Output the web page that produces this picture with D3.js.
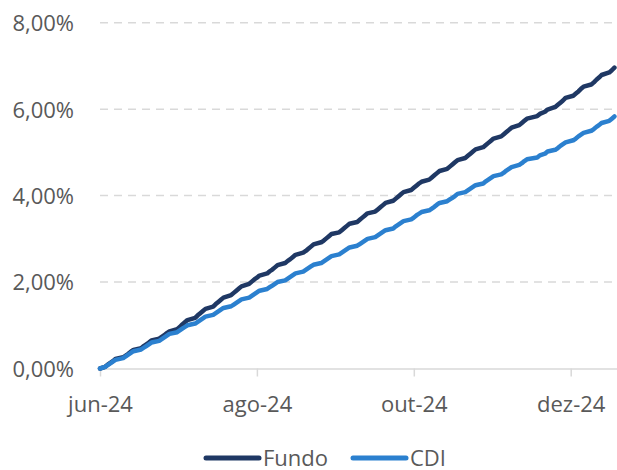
<!DOCTYPE html>
<html>
<head>
<meta charset="utf-8">
<script src="https://cdn.jsdelivr.net/npm/d3@7"></script>
<style>
  html, body { margin: 0; padding: 0; background: #fff; }
  svg { display: block; font-family: "Open Sans", "Noto Sans", sans-serif; }
</style>
</head>
<body>
<svg id="chart" width="617" height="470"></svg>
<script>
// ---- Data (cumulative return, %) ----
const dates = ["06-01",
 "06-03","06-04","06-05","06-06","06-07","06-10","06-11","06-12","06-13","06-14","06-17","06-18","06-19","06-20","06-21","06-24","06-25","06-26","06-27","06-28",
 "07-01","07-02","07-03","07-04","07-05","07-08","07-09","07-10","07-11","07-12","07-15","07-16","07-17","07-18","07-19","07-22","07-23","07-24","07-25","07-26","07-29","07-30","07-31",
 "08-01","08-02","08-05","08-06","08-07","08-08","08-09","08-12","08-13","08-14","08-15","08-16","08-19","08-20","08-21","08-22","08-23","08-26","08-27","08-28","08-29","08-30",
 "09-02","09-03","09-04","09-05","09-06","09-09","09-10","09-11","09-12","09-13","09-16","09-17","09-18","09-19","09-20","09-23","09-24","09-25","09-26","09-27","09-30",
 "10-01","10-02","10-03","10-04","10-07","10-08","10-09","10-10","10-11","10-14","10-15","10-16","10-17","10-18","10-21","10-22","10-23","10-24","10-25","10-28","10-29","10-30","10-31",
 "11-01","11-04","11-05","11-06","11-07","11-08","11-11","11-12","11-13","11-14","11-18","11-19","11-21","11-22","11-25","11-26","11-27","11-28","11-29",
 "12-02","12-03","12-04","12-05","12-06","12-09","12-10","12-11","12-12","12-13","12-16","12-17","12-18"];

const fundo = [0,
 0.04,0.09,0.13,0.17,0.22,0.26,0.30,0.34,0.39,0.43,0.47,0.52,0.56,0.60,0.65,0.69,0.73,0.77,0.82,0.86,
 0.91,0.96,1.02,1.07,1.12,1.17,1.23,1.28,1.33,1.38,1.43,1.49,1.54,1.59,1.64,1.70,1.75,1.80,1.85,1.90,1.96,2.01,2.06,
 2.10,2.15,2.20,2.25,2.29,2.34,2.39,2.44,2.49,2.53,2.58,2.63,2.68,2.72,2.77,2.82,2.87,2.92,2.96,3.01,3.06,3.11,
 3.15,3.20,3.25,3.30,3.35,3.39,3.44,3.49,3.54,3.59,3.63,3.68,3.73,3.78,3.83,3.88,3.93,3.98,4.03,4.08,4.13,
 4.18,4.23,4.28,4.32,4.37,4.42,4.47,4.52,4.57,4.62,4.67,4.72,4.77,4.82,4.87,4.92,4.97,5.02,5.07,5.12,5.17,5.22,5.27,
 5.32,5.37,5.42,5.47,5.52,5.57,5.63,5.68,5.73,5.78,5.84,5.89,5.94,5.99,6.05,6.10,6.15,6.20,6.26,
 6.31,6.36,6.41,6.47,6.52,6.57,6.62,6.68,6.73,6.79,6.85,6.90,6.96];

const cdi = [0,
 0.04,0.08,0.12,0.16,0.20,0.24,0.28,0.32,0.36,0.40,0.44,0.48,0.52,0.56,0.60,0.64,0.68,0.72,0.76,0.80,
 0.84,0.88,0.92,0.96,1.00,1.04,1.08,1.12,1.16,1.20,1.24,1.28,1.32,1.36,1.40,1.44,1.48,1.52,1.56,1.60,1.64,1.68,1.72,
 1.76,1.80,1.84,1.88,1.92,1.96,2.00,2.04,2.08,2.12,2.16,2.20,2.24,2.28,2.32,2.36,2.40,2.44,2.48,2.52,2.56,2.60,
 2.64,2.68,2.72,2.76,2.80,2.84,2.88,2.92,2.96,3.00,3.04,3.08,3.12,3.16,3.20,3.24,3.29,3.33,3.37,3.41,3.45,
 3.49,3.54,3.58,3.62,3.66,3.70,3.74,3.79,3.83,3.87,3.91,3.95,3.99,4.04,4.08,4.12,4.16,4.20,4.24,4.28,4.33,4.37,4.41,
 4.45,4.49,4.53,4.58,4.62,4.66,4.71,4.75,4.80,4.84,4.88,4.93,4.97,5.02,5.06,5.10,5.15,5.19,5.23,
 5.28,5.32,5.37,5.41,5.45,5.50,5.54,5.59,5.63,5.68,5.73,5.78,5.83];

const yTicks = [0, 2, 4, 6, 8];
const xTickDates = ["2024-06-01", "2024-08-01", "2024-10-01", "2024-12-01"];
const xTickLabels = ["jun-24", "ago-24", "out-24", "dez-24"];
const seriesNames = ["Fundo", "CDI"];
const seriesColors = ["#1f3864", "#2b80cf"];

// ---- Chart ----
const parse = d3.timeParse("%Y-%m-%d");
const svg = d3.select("#chart");
const x = d3.scaleTime()
  .domain([parse("2024-06-01"), parse("2024-12-19")])
  .range([100, 617]);
const y = d3.scaleLinear().domain([0, 8]).range([368.5, 22.7]);

const textColor = "#595959";
const gridColor = "#d9d9d9";

// gridlines
svg.append("g").selectAll("line")
  .data(yTicks.filter(d => d > 0))
  .join("line")
  .attr("x1", 100).attr("x2", 617)
  .attr("y1", d => y(d)).attr("y2", d => y(d))
  .attr("stroke", gridColor)
  .attr("stroke-width", 1.5)
  .attr("stroke-dasharray", "8,6");

// y axis labels
const fmtPct = d => d3.format(".2f")(d).replace(".", ",") + "%";
const yAxis = d3.axisLeft(y).tickValues(yTicks).tickFormat(fmtPct).tickSize(0).tickPadding(0);
const gy = svg.append("g").attr("transform", "translate(74,0)").call(yAxis);
gy.select(".domain").remove();
gy.selectAll("text")
  .attr("fill", textColor)
  .style("font-size", "22px")
  .style("font-family", "'Open Sans', 'Noto Sans', sans-serif")
  .attr("dy", "0.36em");

// x axis
const xAxis = d3.axisBottom(x)
  .tickValues(xTickDates.map(parse))
  .tickFormat((d, i) => xTickLabels[i])
  .tickSize(8)
  .tickSizeOuter(0)
  .tickPadding(20);
const gx = svg.append("g").attr("transform", "translate(0,368.5)").call(xAxis);
gx.select(".domain").attr("stroke", gridColor).attr("stroke-width", 1.5);
gx.selectAll(".tick line").attr("stroke", gridColor).attr("stroke-width", 1.5);
gx.selectAll("text")
  .attr("fill", textColor)
  .style("font-size", "22px")
  .style("font-family", "'Open Sans', 'Noto Sans', sans-serif");

// lines
const pts = arr => arr.map((v, i) => ({ date: parse("2024-" + dates[i]), v }));
const line = d3.line().x(d => x(d.date)).y(d => y(d.v));
[fundo, cdi].forEach((arr, k) => {
  svg.append("path")
    .datum(pts(arr))
    .attr("d", line)
    .attr("fill", "none")
    .attr("stroke", seriesColors[k])
    .attr("stroke-width", 4.5)
    .attr("stroke-linejoin", "round")
    .attr("stroke-linecap", "round");
});

// legend
const legendItems = [
  { name: seriesNames[0], color: seriesColors[0], x1: 206, x2: 259, tx: 263 },
  { name: seriesNames[1], color: seriesColors[1], x1: 353, x2: 406, tx: 410 }
];
const lg = svg.append("g");
legendItems.forEach(it => {
  lg.append("line")
    .attr("x1", it.x1).attr("x2", it.x2)
    .attr("y1", 458).attr("y2", 458)
    .attr("stroke", it.color)
    .attr("stroke-width", 5)
    .attr("stroke-linecap", "round");
  lg.append("text")
    .attr("x", it.tx).attr("y", 458)
    .attr("dy", "0.36em")
    .attr("fill", textColor)
    .style("font-size", "22px")
    .text(it.name);
});
</script>
</body>
</html>
